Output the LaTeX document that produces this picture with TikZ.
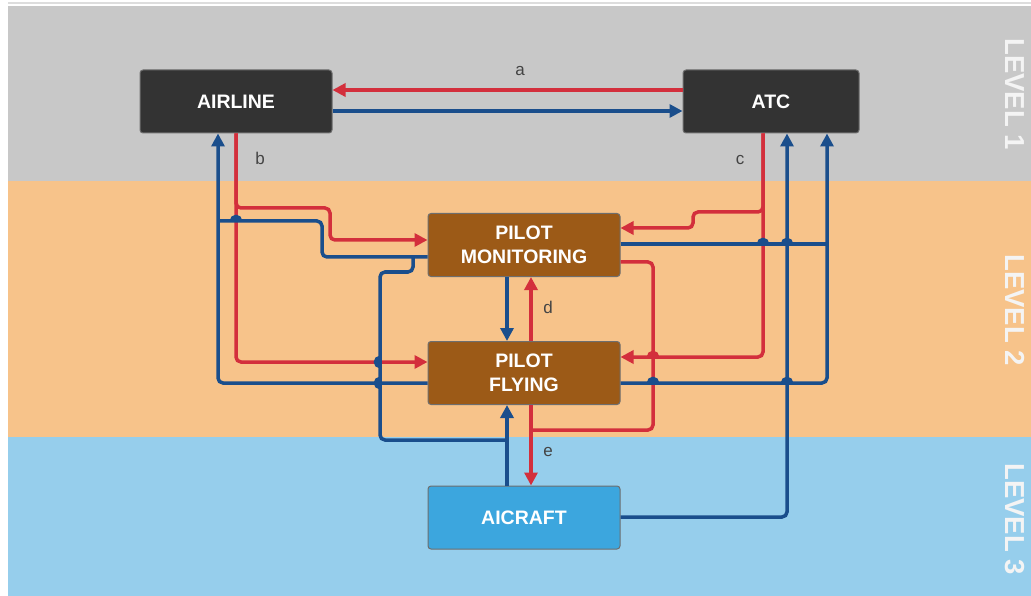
\documentclass[tikz,border=0pt]{standalone}
\usepackage{fontspec}
\setmainfont{Liberation Sans}
\usetikzlibrary{arrows.meta}
\tikzset{box/.style={draw=boxedge,line width=1pt,rounded corners=3pt,minimum width=192pt,minimum height=63pt,inner sep=0pt,text=white,align=center,font=\fontsize{19.5}{23.5}\selectfont\bfseries},
redflow/.style={color=flowred,line width=3.5pt,rounded corners=5pt},
blueflow/.style={color=flowblue,line width=3.5pt,rounded corners=5pt},
head/.style={-{Triangle[length=13pt,width=13pt]}},
tag/.style={text=tagtext,font=\fontsize{17}{17}\selectfont},
levelname/.style={text=leveltext,rotate=-90,font=\fontsize{27.5}{28}\selectfont\bfseries}}
\definecolor{band1}{HTML}{C8C8C8}
\definecolor{band2}{HTML}{F7C38A}
\definecolor{band3}{HTML}{96CEEC}
\definecolor{topline}{HTML}{DDDDDD}
\definecolor{darkbox}{HTML}{333333}
\definecolor{boxedge}{HTML}{6E6E6E}
\definecolor{pilotbrown}{HTML}{9C5A17}
\definecolor{craftblue}{HTML}{3CA6DE}
\definecolor{flowred}{HTML}{D32F3C}
\definecolor{flowblue}{HTML}{1A4E8C}
\definecolor{tagtext}{HTML}{444444}
\definecolor{leveltext}{HTML}{F4F4F4}
\newcommand{\hopup}[3]{\draw[#1,fill] (#2-4.5,#3) arc[start angle=180,end angle=360,radius=4.5];}
\newcommand{\hopleft}[3]{\draw[#1,fill] (#2,#3-4.5) arc[start angle=270,end angle=90,radius=4.5];}

\begin{document}
\begin{tikzpicture}[x=1pt,y=-1pt]
\useasboundingbox (0,0) rectangle (1031,596);
\fill[white] (0,0) rectangle (1031,596);
\fill[topline] (8,2) rectangle (1031,4);
\fill[band1] (8,6) rectangle (1031,181);
\fill[band2] (8,181) rectangle (1031,437);
\fill[band3] (8,437) rectangle (1031,596);
\node[levelname] (lev1) at (1015,94) {LEVEL 1};
\node[levelname] (lev2) at (1015,310) {LEVEL 2};
\node[levelname] (lev3) at (1015,519) {LEVEL 3};

\node[box,fill=darkbox] (airline) at (236,101.5) {AIRLINE};
\node[box,fill=darkbox,minimum width=176pt] (atc) at (771,101.5) {ATC};
\node[box,fill=pilotbrown] (pm) at (524,245) {PILOT\\MONITORING};
\node[box,fill=pilotbrown] (pf) at (524,373) {PILOT\\FLYING};
\node[box,fill=craftblue] (aircraft) at (524,517.5) {AICRAFT};

\coordinate (bjoin) at (218,221);
\coordinate (cjoin) at (507,440);
\coordinate (mjoin) at (413,257);
\coordinate (ejoin) at (531,430);
\coordinate (ajoin) at (827,244);

\draw[redflow,head] (atc.west |- 0,90) -- (airline.east |- 0,90);
\draw[blueflow,head] (airline.east |- 0,111) -- (atc.west |- 0,111);

\draw[redflow,head] (airline.south -| 236,0) -- (236,208) -- (330,208) -- (330,240) -- (pm.west |- 0,240);
\draw[redflow,head] (airline.south -| 236,0) -- (236,362) -- (pf.west |- 0,362);
\draw[blueflow,head] (pf.west |- 0,383) -- (218,383) -- (airline.south -| 218,0);
\draw[blueflow] (pm.west |- 0,257) -- (322,257) -- (322,221) -- (bjoin);
\hopup{blueflow}{236}{221}

\draw[blueflow,head] (aircraft.north -| 507,0) -- (pf.south -| 507,0);
\draw[blueflow] (cjoin) -- (380,440) -- (380,272) -- (413,272) -- (mjoin);
\hopleft{blueflow}{380}{362}
\hopleft{blueflow}{380}{383}

\draw[blueflow,head] (pm.south -| 507,0) -- (pf.north -| 507,0);
\draw[redflow,head] (pf.north -| 531,0) -- (pm.south -| 531,0);
\draw[redflow,head] (pf.south -| 531,0) -- (aircraft.north -| 531,0);
\draw[redflow] (pm.east |- 0,262) -- (653,262) -- (653,430) -- (ejoin);

\draw[redflow,head] (atc.south -| 763,0) -- (763,212) -- (693,212) -- (693,228) -- (pm.east |- 0,228);
\draw[redflow,head] (atc.south -| 763,0) -- (763,357) -- (pf.east |- 0,357);
\hopup{redflow}{653}{357}
\draw[blueflow,head] (aircraft.east |- 0,517) -- (787,517) -- (atc.south -| 787,0);
\draw[blueflow,head] (pf.east |- 0,383) -- (827,383) -- (atc.south -| 827,0);
\draw[blueflow] (pm.east |- 0,244) -- (ajoin);
\hopup{blueflow}{763}{244}
\hopup{blueflow}{787}{244}
\hopup{blueflow}{653}{383}
\hopup{blueflow}{787}{383}

\node[tag] (la) at (520,71) {a};
\node[tag] (lb) at (260,158) {b};
\node[tag] (lc) at (740,160) {c};
\node[tag] (ld) at (548,307) {d};
\node[tag] (le) at (548,452) {e};
\end{tikzpicture}
\end{document}
